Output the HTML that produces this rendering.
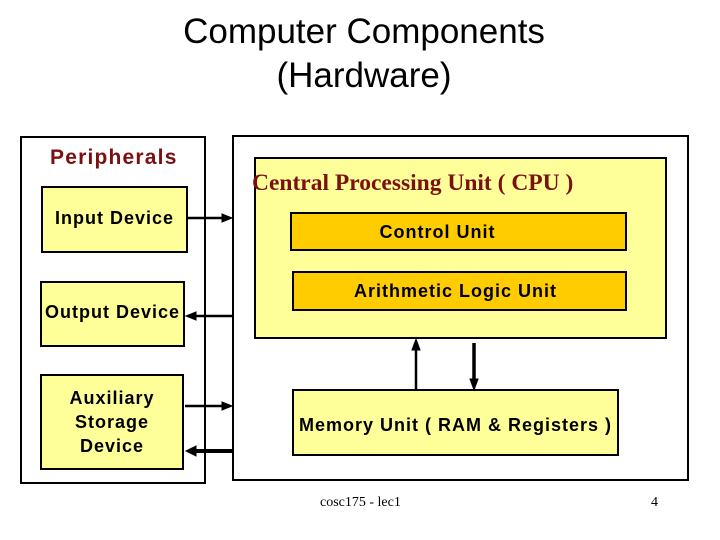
<!DOCTYPE html>
<html><head><style>
body{margin:0;width:720px;height:540px;background:#fff;position:relative;overflow:hidden;font-family:"Liberation Sans",sans-serif}
.b{position:absolute;box-sizing:border-box;border:2px solid #000}
.y{background:#ffff99}
.o{background:#ffcc00}
.t{position:absolute;white-space:nowrap}
.c{display:flex;align-items:center;justify-content:center;text-align:center;font-weight:bold;font-size:18px;letter-spacing:1px;color:#000}
</style></head><body>
<div class="t" style="left:0;width:728px;top:10px;text-align:center;font-size:35px;line-height:44px">Computer Components<br>(Hardware)</div>

<div class="b" style="left:20px;top:136px;width:186px;height:348px"></div>
<div class="t" style="left:50px;top:146px;font-size:21px;letter-spacing:1.2px;font-weight:bold;color:#7a1010">Peripherals</div>
<div class="b y c" style="left:41px;top:186px;width:147px;height:67px;align-items:flex-start;padding-top:20px">Input Device</div>
<div class="b y c" style="left:40px;top:281px;width:145px;height:66px;justify-content:flex-start;padding-left:3px;padding-bottom:4px">Output Device</div>
<div class="b y c" style="left:40px;top:374px;width:144px;height:96px;line-height:24px">Auxiliary<br>Storage<br>Device</div>

<div class="b" style="left:232px;top:135px;width:457px;height:346px"></div>
<div class="b y" style="left:254px;top:157px;width:413px;height:182px"></div>
<div class="t" style="left:252px;top:170px;font-family:'Liberation Serif',serif;font-weight:bold;font-size:23.5px;color:#7a1010">Central Processing Unit ( CPU )</div>
<div class="b o c" style="left:290px;top:212px;width:337px;height:39px;padding-right:42px;padding-top:2px">Control Unit</div>
<div class="b o c" style="left:292px;top:271px;width:335px;height:40px;padding-right:8px;align-items:flex-start;padding-top:8px">Arithmetic Logic Unit</div>
<div class="b y c" style="left:292px;top:389px;width:327px;height:67px;padding-top:5px">Memory Unit ( RAM &amp; Registers )</div>

<svg width="720" height="540" style="position:absolute;left:0;top:0">
<g stroke="#000" fill="#000">
<line x1="187" y1="218" x2="224" y2="218" stroke-width="2.5"/><polygon points="232,218 222,214 222,222"/>
<line x1="194" y1="316" x2="232" y2="316" stroke-width="2.5"/><polygon points="186,316 196,312 196,320"/>
<line x1="185" y1="406" x2="224" y2="406" stroke-width="2.5"/><polygon points="232,406 222,402 222,410"/>
<line x1="194" y1="451" x2="232" y2="451" stroke-width="4"/><polygon points="186,451 196,446 196,456"/>
<line x1="416" y1="389" x2="416" y2="348" stroke-width="2.5"/><polygon points="416,339 412,350 420,350"/>
<line x1="474" y1="343" x2="474" y2="381" stroke-width="3.5"/><polygon points="474,390 470,379 478,379"/>
</g>
</svg>
<div class="t" style="left:320px;top:495px;font-family:'Liberation Serif',serif;font-size:14px">cosc175 - lec1</div>
<div class="t" style="left:651px;top:495px;font-family:'Liberation Serif',serif;font-size:14px">4</div>
</body></html>
